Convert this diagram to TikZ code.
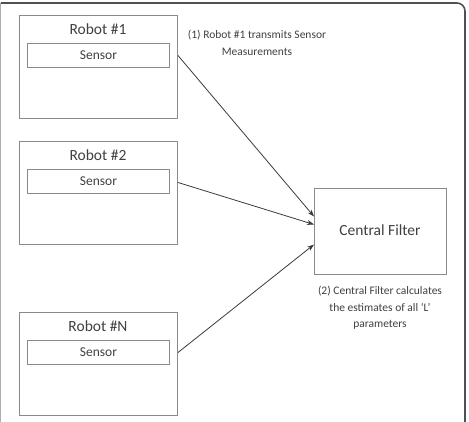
\documentclass[tikz,border=0pt]{standalone}
\usepackage{fontspec}
\setmainfont{Carlito}
\usetikzlibrary{arrows.meta,calc}
\definecolor{txt}{HTML}{404040}
\definecolor{boxline}{HTML}{8A8A8A}
\definecolor{frameline}{HTML}{505050}
\definecolor{arrowline}{HTML}{3A3A3A}
\tikzset{
  robotbox/.style={draw=boxline, line width=1pt, minimum width=158pt, minimum height=103pt, anchor=north west, inner sep=0pt},
  sensorbox/.style={draw=boxline, line width=1pt, minimum width=142pt, minimum height=24pt, anchor=north west, inner sep=0pt, text=txt, font=\fontsize{13.5}{16}\selectfont},
  titletext/.style={text=txt, font=\fontsize{15.5}{18}\selectfont, inner sep=0pt},
  annot/.style={text=txt, font=\fontsize{11.5}{16.5}\selectfont, align=center, inner sep=0pt},
  conn/.style={draw=arrowline, line width=0.8pt, -{Stealth[length=7pt,width=5pt]}}
}
\begin{document}
\begin{tikzpicture}[x=1pt,y=-1pt]
\useasboundingbox (0,0) rectangle (469,422);
\begin{scope}
\clip (0,0) rectangle (469,422);
\draw[frameline, line width=1.6pt] (465,430) -- (465,11) arc[start angle=0, end angle=-90, radius=8] -- (0.8,3);
\draw[boxline!70, line width=1.2pt] (0.8,3) -- (0.8,430);
\end{scope}

% Robot #1
\node[robotbox] (r1) at (19,15) {};
\node[titletext] (t1) at (98,29) {Robot \#1};
\node[sensorbox] (s1) at (27,43) {Sensor};
% Robot #2
\node[robotbox] (r2) at (19,141) {};
\node[titletext] (t2) at (98,155) {Robot \#2};
\node[sensorbox] (s2) at (27,169) {Sensor};
% Robot #N
\node[robotbox] (rN) at (19,312) {};
\node[titletext] (tN) at (98,326) {Robot \#N};
\node[sensorbox] (sN) at (27,340) {Sensor};

% Central filter
\node[draw=boxline, line width=1pt, minimum width=132pt, minimum height=86pt, anchor=north west, inner sep=0pt] (cf) at (314,188) {};
\node[titletext] (cft) at (380,230) {Central Filter};

% annotations
\node[annot] (a1) at (257,43) {(1) Robot \#1 transmits Sensor\\Measurements};
\node[annot] (a2) at (380,308) {(2) Central Filter calculates\\the estimates of all ‘L’\\parameters};

% connectors
\coordinate (e1) at ($(cf.west)+(0,-15)$);
\coordinate (e2) at ($(cf.west)+(0,-7)$);
\coordinate (eN) at ($(cf.west)+(0,13)$);
\draw[conn] (s1.east -| r1.east) -- (e1);
\draw[conn] ($(s2.east -| r2.east)+(0,1)$) -- (e2);
\draw[conn] (sN.east -| rN.east) -- (eN);
\end{tikzpicture}
\end{document}
